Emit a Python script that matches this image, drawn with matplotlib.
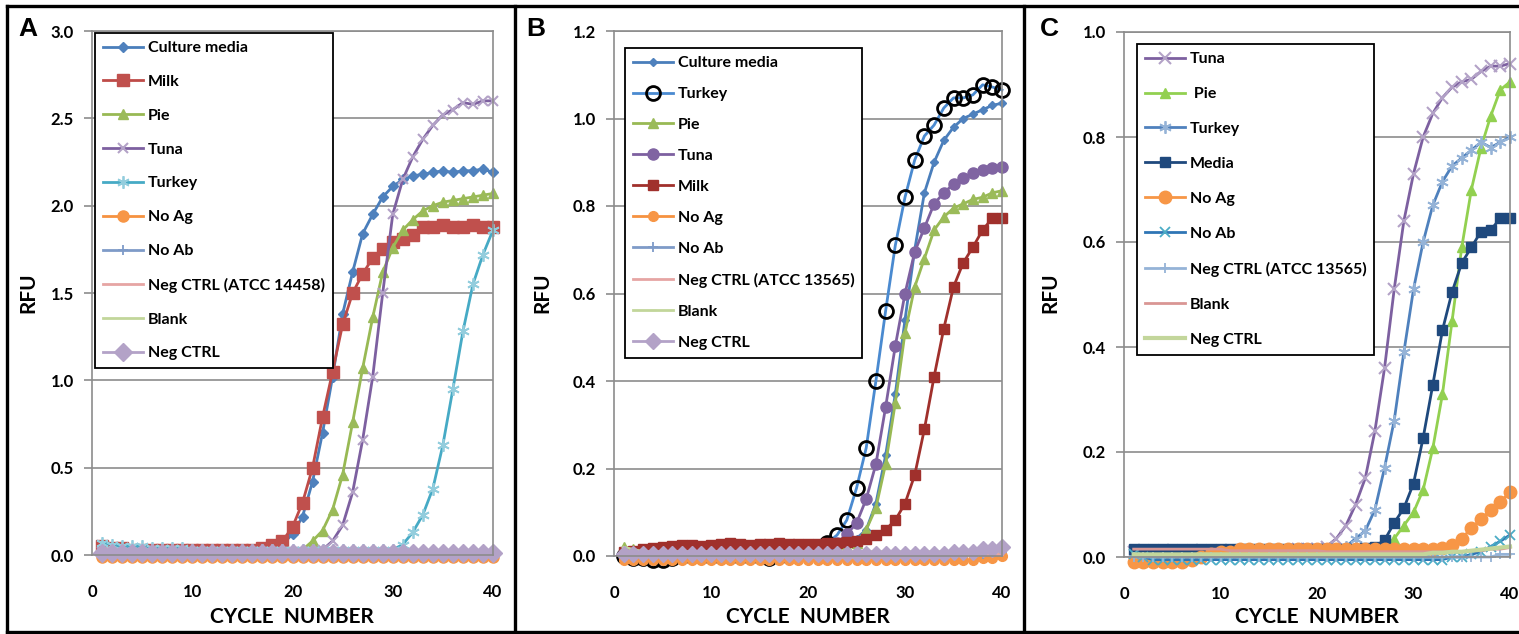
import matplotlib
matplotlib.use("Agg")
import matplotlib.pyplot as plt
from matplotlib.lines import Line2D

plt.rcParams['font.family'] = ['Lato', 'DejaVu Sans']

cycles = list(range(1, 41))

# ---------------- Panel A ----------------
a_culture = [0.04, 0.04, 0.03, 0.03, 0.03, 0.03, 0.03, 0.03, 0.03, 0.03,
             0.03, 0.03, 0.03, 0.02, 0.02, 0.02, 0.02, 0.03, 0.06, 0.12,
             0.22, 0.42, 0.70, 1.02, 1.38, 1.62, 1.84, 1.95, 2.05, 2.11,
             2.15, 2.17, 2.18, 2.19, 2.20, 2.19, 2.20, 2.20, 2.21, 2.19]
a_milk = [0.05, 0.04, 0.04, 0.03, 0.03, 0.03, 0.03, 0.03, 0.03, 0.03,
          0.03, 0.03, 0.03, 0.03, 0.03, 0.03, 0.04, 0.06, 0.08, 0.16,
          0.30, 0.50, 0.79, 1.05, 1.32, 1.50, 1.61, 1.70, 1.75, 1.79,
          1.81, 1.83, 1.88, 1.88, 1.89, 1.88, 1.88, 1.89, 1.88, 1.88]
a_pie = [0.03, 0.03, 0.02, 0.02, 0.02, 0.02, 0.02, 0.02, 0.02, 0.02,
         0.02, 0.02, 0.02, 0.02, 0.02, 0.02, 0.02, 0.02, 0.02, 0.02,
         0.03, 0.08, 0.14, 0.26, 0.46, 0.76, 1.07, 1.36, 1.62, 1.76,
         1.86, 1.92, 1.97, 2.00, 2.02, 2.03, 2.04, 2.05, 2.06, 2.07]
a_tuna = [0.02, 0.02, 0.02, 0.02, 0.02, 0.02, 0.02, 0.02, 0.02, 0.02,
          0.02, 0.02, 0.02, 0.02, 0.02, 0.02, 0.02, 0.02, 0.02, 0.02,
          0.02, 0.02, 0.03, 0.08, 0.17, 0.36, 0.66, 1.02, 1.50, 1.95,
          2.15, 2.28, 2.38, 2.46, 2.52, 2.55, 2.59, 2.58, 2.60, 2.60]
a_turkey = [0.07, 0.06, 0.05, 0.05, 0.05, 0.04, 0.04, 0.04, 0.04, 0.03,
            0.03, 0.03, 0.03, 0.03, 0.03, 0.03, 0.03, 0.03, 0.03, 0.03,
            0.03, 0.03, 0.03, 0.03, 0.03, 0.03, 0.03, 0.03, 0.03, 0.03,
            0.06, 0.13, 0.23, 0.38, 0.63, 0.95, 1.28, 1.55, 1.72, 1.86]
a_noag = [-0.01, -0.01, -0.01, -0.01, -0.01, -0.01, -0.01, -0.01, -0.01, -0.01,
          -0.01, -0.01, -0.01, -0.01, -0.01, -0.01, -0.01, -0.01, -0.01, -0.01,
          -0.01, -0.01, -0.01, -0.01, -0.01, -0.01, -0.01, -0.01, -0.01, -0.01,
          -0.01, -0.01, -0.01, -0.01, -0.01, -0.01, -0.01, -0.01, -0.01, -0.01]
a_noab = [0.01, 0.01, 0.00, 0.00, 0.00, 0.00, 0.00, 0.00, 0.00, 0.00,
          0.00, 0.00, 0.00, 0.00, 0.00, 0.00, 0.00, 0.00, 0.00, 0.00,
          0.00, 0.00, 0.00, 0.00, 0.00, 0.00, 0.00, 0.00, 0.00, 0.00,
          0.00, 0.00, 0.00, 0.00, 0.00, 0.00, 0.00, 0.00, 0.00, 0.00]
a_negatcc = [0.04, 0.03, 0.03, 0.03, 0.03, 0.02, 0.02, 0.02, 0.02, 0.02,
             0.02, 0.02, 0.02, 0.02, 0.02, 0.02, 0.02, 0.01, 0.01, 0.01,
             0.01, 0.01, 0.01, 0.01, 0.01, 0.01, 0.01, 0.01, 0.01, 0.01,
             0.01, 0.01, 0.01, 0.01, 0.01, 0.01, 0.01, 0.01, 0.01, 0.01]
a_blank = [0.00, 0.00, 0.00, 0.00, 0.00, 0.00, 0.00, 0.00, 0.00, 0.00,
           0.00, 0.00, 0.00, 0.00, 0.00, 0.00, 0.00, 0.00, 0.00, 0.00,
           0.00, 0.00, 0.00, 0.00, 0.00, 0.00, 0.00, 0.00, 0.00, 0.00,
           0.00, 0.00, 0.00, 0.00, 0.00, 0.00, 0.00, 0.00, 0.00, 0.00]
a_neg = [0.01, 0.01, 0.01, 0.01, 0.01, 0.01, 0.01, 0.01, 0.01, 0.01,
         0.01, 0.01, 0.01, 0.01, 0.01, 0.01, 0.01, 0.01, 0.01, 0.01,
         0.01, 0.01, 0.01, 0.01, 0.01, 0.01, 0.01, 0.01, 0.01, 0.01,
         0.01, 0.01, 0.01, 0.01, 0.01, 0.01, 0.01, 0.01, 0.01, 0.01]
a_labels = ["Culture media", "Milk", "Pie", "Tuna", "Turkey", "No Ag", "No Ab",
            "Neg CTRL (ATCC 14458)", "Blank", "Neg CTRL"]

# ---------------- Panel B ----------------
b_culture = [0.01, 0.01, 0.01, 0.01, 0.01, 0.01, 0.01, 0.01, 0.01, 0.01,
             0.01, 0.01, 0.01, 0.01, 0.01, 0.01, 0.01, 0.01, 0.01, 0.01,
             0.015, 0.02, 0.02, 0.03, 0.04, 0.06, 0.12, 0.23, 0.37, 0.54,
             0.70, 0.83, 0.90, 0.95, 0.98, 1.00, 1.01, 1.02, 1.03, 1.035]
b_turkey = [0.00, -0.005, -0.005, -0.01, -0.01, -0.005, 0.00, 0.00, 0.00, 0.00,
            0.00, 0.00, 0.00, 0.00, 0.00, -0.005, 0.00, 0.005, 0.01, 0.015,
            0.02, 0.03, 0.048, 0.082, 0.155, 0.247, 0.40, 0.56, 0.71, 0.82,
            0.905, 0.96, 0.985, 1.024, 1.047, 1.047, 1.054, 1.077, 1.072, 1.065]
b_pie = [0.02, 0.015, 0.01, 0.01, 0.01, 0.01, 0.01, 0.01, 0.01, 0.01,
         0.01, 0.01, 0.01, 0.01, 0.01, 0.01, 0.005, 0.01, 0.01, 0.01,
         0.01, 0.01, 0.015, 0.02, 0.03, 0.06, 0.11, 0.21, 0.35, 0.51,
         0.615, 0.68, 0.745, 0.775, 0.795, 0.805, 0.815, 0.82, 0.83, 0.835]
b_tuna = [0.00, 0.005, 0.005, 0.005, 0.005, 0.005, 0.005, 0.005, 0.005, 0.005,
          0.005, 0.005, 0.005, 0.005, 0.005, 0.005, 0.005, 0.005, 0.01, 0.01,
          0.015, 0.02, 0.03, 0.05, 0.075, 0.13, 0.21, 0.34, 0.48, 0.60,
          0.695, 0.75, 0.805, 0.83, 0.85, 0.865, 0.875, 0.883, 0.888, 0.89]
b_milk = [0.01, 0.012, 0.015, 0.018, 0.02, 0.022, 0.025, 0.025, 0.024, 0.026,
          0.028, 0.03, 0.027, 0.026, 0.028, 0.027, 0.029, 0.028, 0.027, 0.028,
          0.028, 0.029, 0.03, 0.032, 0.035, 0.04, 0.048, 0.06, 0.082, 0.12,
          0.185, 0.29, 0.41, 0.52, 0.615, 0.67, 0.706, 0.745, 0.772, 0.773]
b_noag = [-0.01, -0.01, -0.01, -0.01, -0.01, -0.01, -0.01, -0.01, -0.01, -0.01,
          -0.01, -0.01, -0.01, -0.01, -0.01, -0.01, -0.01, -0.01, -0.01, -0.01,
          -0.01, -0.01, -0.01, -0.01, -0.01, -0.01, -0.01, -0.01, -0.01, -0.01,
          -0.01, -0.01, -0.01, -0.01, -0.01, -0.01, -0.01, -0.005, -0.005, 0.00]
b_noab = [0.005, 0.005, 0.005, 0.005, 0.005, 0.005, 0.005, 0.005, 0.005, 0.005,
          0.005, 0.005, 0.005, 0.005, 0.005, 0.005, 0.005, 0.005, 0.005, 0.005,
          0.005, 0.005, 0.005, 0.005, 0.005, 0.005, 0.005, 0.005, 0.005, 0.005,
          0.005, 0.005, 0.005, 0.005, 0.005, 0.005, 0.005, 0.005, 0.01, 0.01]
b_negatcc = [0.005, 0.005, 0.005, 0.005, 0.005, 0.005, 0.005, 0.005, 0.005, 0.005,
             0.005, 0.005, 0.005, 0.005, 0.005, 0.005, 0.005, 0.005, 0.005, 0.005,
             0.005, 0.005, 0.005, 0.005, 0.005, 0.005, 0.005, 0.005, 0.005, 0.005,
             0.005, 0.005, 0.005, 0.005, 0.005, 0.005, 0.005, 0.005, 0.005, 0.005]
b_blank = [0.02, 0.015, 0.01, 0.01, 0.01, 0.01, 0.01, 0.01, 0.01, 0.01,
           0.01, 0.01, 0.01, 0.01, 0.01, 0.01, 0.01, 0.01, 0.01, 0.01,
           0.01, 0.01, 0.01, 0.01, 0.01, 0.01, 0.01, 0.01, 0.01, 0.01,
           0.01, 0.01, 0.01, 0.01, 0.01, 0.01, 0.01, 0.01, 0.01, 0.01]
b_neg = [0.005, 0.005, 0.005, 0.005, 0.005, 0.005, 0.005, 0.005, 0.005, 0.005,
         0.005, 0.005, 0.005, 0.005, 0.005, 0.005, 0.005, 0.005, 0.005, 0.005,
         0.005, 0.005, 0.005, 0.005, 0.005, 0.005, 0.005, 0.005, 0.005, 0.005,
         0.005, 0.005, 0.005, 0.005, 0.01, 0.01, 0.01, 0.015, 0.015, 0.02]
b_labels = ["Culture media", "Turkey", "Pie", "Tuna", "Milk", "No Ag", "No Ab",
            "Neg CTRL (ATCC 13565)", "Blank", "Neg CTRL"]

# ---------------- Panel C ----------------
c_tuna = [0.01, 0.01, 0.01, 0.01, 0.01, 0.01, 0.01, 0.01, 0.01, 0.01,
          0.01, 0.01, 0.01, 0.01, 0.01, 0.01, 0.01, 0.015, 0.015, 0.015,
          0.02, 0.035, 0.06, 0.10, 0.15, 0.24, 0.36, 0.51, 0.64, 0.73,
          0.80, 0.845, 0.875, 0.895, 0.905, 0.91, 0.925, 0.935, 0.935, 0.94]
c_pie = [0.01, 0.01, 0.01, 0.01, 0.01, 0.01, 0.01, 0.01, 0.01, 0.01,
         0.01, 0.01, 0.01, 0.01, 0.01, 0.01, 0.01, 0.01, 0.01, 0.01,
         0.01, 0.01, 0.01, 0.01, 0.01, 0.015, 0.02, 0.035, 0.06, 0.085,
         0.128, 0.207, 0.31, 0.45, 0.59, 0.70, 0.78, 0.84, 0.89, 0.905]
c_turkey = [0.01, 0.01, 0.01, 0.01, 0.01, 0.01, 0.01, 0.01, 0.01, 0.01,
            0.01, 0.01, 0.01, 0.01, 0.01, 0.01, 0.01, 0.01, 0.01, 0.01,
            0.01, 0.015, 0.02, 0.035, 0.05, 0.09, 0.17, 0.26, 0.39, 0.51,
            0.60, 0.67, 0.715, 0.745, 0.76, 0.775, 0.79, 0.78, 0.79, 0.80]
c_media = [0.015, 0.015, 0.015, 0.015, 0.015, 0.015, 0.015, 0.015, 0.015, 0.015,
           0.015, 0.015, 0.015, 0.015, 0.015, 0.015, 0.015, 0.015, 0.015, 0.015,
           0.015, 0.015, 0.015, 0.015, 0.018, 0.02, 0.032, 0.065, 0.093, 0.14,
           0.227, 0.328, 0.432, 0.505, 0.56, 0.59, 0.62, 0.623, 0.645, 0.645]
c_noag = [-0.01, -0.01, -0.01, -0.01, -0.01, -0.01, -0.005, 0.00, 0.005, 0.01,
          0.01, 0.015, 0.015, 0.015, 0.015, 0.015, 0.015, 0.015, 0.015, 0.015,
          0.015, 0.015, 0.015, 0.015, 0.015, 0.015, 0.015, 0.015, 0.015, 0.015,
          0.015, 0.015, 0.017, 0.022, 0.035, 0.055, 0.072, 0.09, 0.105, 0.124]
c_noab = [0.005, 0.00, -0.005, -0.005, -0.005, -0.005, -0.005, -0.005, -0.005, -0.005,
          -0.005, -0.005, -0.005, -0.005, -0.005, -0.005, -0.005, -0.005, -0.005, -0.005,
          -0.005, -0.005, -0.005, -0.005, -0.005, -0.005, -0.005, -0.005, -0.005, -0.005,
          -0.005, -0.005, -0.005, 0.00, 0.00, 0.005, 0.01, 0.02, 0.03, 0.042]
c_negatcc = [0.00, 0.00, 0.00, 0.00, 0.00, 0.00, 0.00, 0.00, 0.00, 0.00,
             0.00, 0.00, 0.00, 0.00, 0.00, 0.00, 0.00, 0.00, 0.00, 0.00,
             0.00, 0.00, 0.00, 0.00, 0.00, 0.00, 0.00, 0.00, 0.00, 0.00,
             0.00, 0.00, 0.00, 0.00, 0.00, 0.00, 0.00, 0.00, 0.005, 0.005]
c_blank = [0.015, 0.015, 0.015, 0.015, 0.015, 0.015, 0.015, 0.015, 0.015, 0.015,
           0.012, 0.012, 0.012, 0.012, 0.012, 0.012, 0.012, 0.012, 0.012, 0.012,
           0.01, 0.01, 0.01, 0.01, 0.01, 0.01, 0.01, 0.01, 0.01, 0.01,
           0.01, 0.01, 0.01, 0.01, 0.01, 0.012, 0.012, 0.015, 0.015, 0.018]
c_neg = [0.005, 0.005, 0.005, 0.005, 0.005, 0.005, 0.005, 0.005, 0.005, 0.005,
         0.005, 0.005, 0.005, 0.005, 0.005, 0.005, 0.005, 0.005, 0.005, 0.005,
         0.005, 0.005, 0.005, 0.005, 0.005, 0.005, 0.005, 0.005, 0.005, 0.005,
         0.005, 0.008, 0.008, 0.01, 0.01, 0.012, 0.014, 0.016, 0.018, 0.02]
c_labels = ["Tuna", " Pie", "Turkey", "Media", "No Ag", "No Ab",
            "Neg CTRL (ATCC 13565)", "Blank", "Neg CTRL"]

ASTER = (6, 2, 0)

styles_a = [
    dict(color='#4A7EBB', marker='D', ms=5, mfc='#4F81BD', mec='#4F81BD'),
    dict(color='#BE4B48', marker='s', ms=9, mfc='#C0504D', mec='#C0504D'),
    dict(color='#98B954', marker='^', ms=7, mfc='#9BBB59', mec='#9BBB59'),
    dict(color='#7D60A0', marker='x', ms=7, mec='#B3A2C7', mew=1.5),
    dict(color='#46AAC5', marker=ASTER, ms=9, mec='#93CDDD', mew=1.3),
    dict(color='#F69240', marker='o', ms=8, mfc='#F79646', mec='#F79646'),
    dict(color='#7E9BC8', marker='+', ms=7, mec='#7E9BC8', mew=1.3),
    dict(color='#E6A5A3', marker='None'),
    dict(color='#C2D69A', marker='None'),
    dict(color='#B3A2C7', marker='D', ms=9, mfc='#B3A2C7', mec='#B3A2C7'),
]
styles_b = [
    dict(color='#4A7EBB', marker='D', ms=4, mfc='#4F81BD', mec='#4F81BD'),
    dict(color='#4A8AD0', marker='o', ms=10, mfc='none', mec='black', mew=2),
    dict(color='#98B954', marker='^', ms=7, mfc='#9BBB59', mec='#9BBB59'),
    dict(color='#7D60A0', marker='o', ms=8, mfc='#8064A2', mec='#8064A2'),
    dict(color='#A0302C', marker='s', ms=6.5, mfc='#A0302C', mec='#A0302C'),
    dict(color='#F69240', marker='o', ms=7, mfc='#F79646', mec='#F79646'),
    dict(color='#7E9BC8', marker='+', ms=7, mec='#7E9BC8', mew=1.3),
    dict(color='#E6A5A3', marker='None'),
    dict(color='#C2D69A', marker='_', ms=5, mec='#C2D69A'),
    dict(color='#B3A2C7', marker='D', ms=8, mfc='#B3A2C7', mec='#B3A2C7'),
]
styles_c = [
    dict(color='#7D60A0', marker='x', ms=8, mec='#B3A2C7', mew=1.5),
    dict(color='#92D050', marker='^', ms=7, mfc='#92D050', mec='#92D050'),
    dict(color='#4F81BD', marker=ASTER, ms=9, mec='#95B3D7', mew=1.3),
    dict(color='#1F497D', marker='s', ms=7, mfc='#1F497D', mec='#1F497D'),
    dict(color='#F79646', marker='o', ms=9, mfc='#F79646', mec='#F79646'),
    dict(color='#2F75B5', marker='x', ms=7, mec='#4BACC6', mew=1.3),
    dict(color='#95B3D7', marker='+', ms=7, mec='#95B3D7', mew=1.3),
    dict(color='#D99694', marker='None'),
    dict(color='#C3D69B', marker='None', lw=3),
]

W, H = 1519, 634
fig = plt.figure(figsize=(W / 100, H / 100), dpi=100)


def fx(px):
    return px / W


def fy(py):
    return 1 - py / H


GRID = '#8C8C8C'


def make_panel(rect, series, labels, styles, ymax, ystep, ytick_fmt, leg_xy, leg_ls):
    l, t, r, b = rect
    ax = fig.add_axes([fx(l), fy(b), fx(r - l), (b - t) / H])
    for vals, lab, st in zip(series, labels, styles):
        st = dict(st)
        lw = st.pop('lw', 2.0)
        ax.plot(cycles, vals, label=lab, lw=lw, clip_on=False, **st)
    ax.set_xlim(0, 40)
    ax.set_ylim(0, ymax)
    n = int(round(ymax / ystep))
    yt = [i * ystep for i in range(n + 1)]
    ax.set_yticks(yt)
    ax.set_yticklabels([ytick_fmt.format(v) for v in yt])
    ax.set_xticks([0, 10, 20, 30, 40])
    ax.yaxis.grid(True, color=GRID, lw=1.2)
    ax.set_axisbelow(True)
    for s in ax.spines.values():
        s.set_color(GRID)
        s.set_linewidth(1.2)
    ax.tick_params(axis='y', direction='out', length=6, width=1.2, color=GRID,
                   pad=7, labelsize=12)
    ax.tick_params(axis='x', length=0, pad=21, labelsize=12)
    for lab in ax.get_xticklabels() + ax.get_yticklabels():
        lab.set_fontweight('bold')
    leg = ax.legend(loc='upper left', bbox_to_anchor=(fx(leg_xy[0]), fy(leg_xy[1])),
                    bbox_transform=fig.transFigure, borderaxespad=0,
                    frameon=True, fancybox=False, framealpha=1, edgecolor='black',
                    prop=dict(size=11.5, weight='bold'), handlelength=2.5,
                    handletextpad=0.3, labelspacing=leg_ls, borderpad=0.5)
    leg.get_frame().set_linewidth(1.3)
    return ax


make_panel((92, 31, 493, 555),
           [a_culture, a_milk, a_pie, a_tuna, a_turkey, a_noag, a_noab, a_negatcc, a_blank, a_neg],
           a_labels, styles_a, 3.0, 0.5, '{:.1f}', (95, 33), 1.23)
make_panel((614, 31, 1002, 556),
           [b_culture, b_turkey, b_pie, b_tuna, b_milk, b_noag, b_noab, b_negatcc, b_blank, b_neg],
           b_labels, styles_b, 1.2, 0.2, '{:.1f}', (625, 48), 1.05)
make_panel((1124, 32, 1510, 557),
           [c_tuna, c_pie, c_turkey, c_media, c_noag, c_noab, c_negatcc, c_blank, c_neg],
           c_labels, styles_c, 1.0, 0.2, '{:.1f}', (1137, 44), 1.30)

# Panel letters, axis titles
for x_letter, x_rfu, x_cyc, letter in [(28, 28, 292, 'A'), (536, 542, 808, 'B'), (1049, 1050, 1317, 'C')]:
    fig.text(fx(x_letter), fy(29), letter, fontsize=19, fontweight='bold',
             ha='center', va='center', family=['Liberation Sans', 'DejaVu Sans'])
    fig.text(fx(x_rfu), fy(293), 'RFU', fontsize=15, fontweight='bold',
             rotation=90, ha='center', va='center')
    fig.text(fx(x_cyc), fy(617), 'CYCLE  NUMBER', fontsize=15, fontweight='bold',
             ha='center', va='center')

# Panel frames
frame_kw = dict(color='black', lw=2.4, transform=fig.transFigure)
fig.add_artist(Line2D([fx(7), 1], [fy(6), fy(6)], **frame_kw))
fig.add_artist(Line2D([fx(7), 1], [fy(632), fy(632)], **frame_kw))
fig.add_artist(Line2D([fx(7), fx(7)], [fy(6), fy(632)], **frame_kw))
fig.add_artist(Line2D([fx(515), fx(515)], [fy(6), fy(632)], **frame_kw))
fig.add_artist(Line2D([fx(1024), fx(1024)], [fy(6), fy(632)], **frame_kw))

fig.savefig('out.png', dpi=100)
